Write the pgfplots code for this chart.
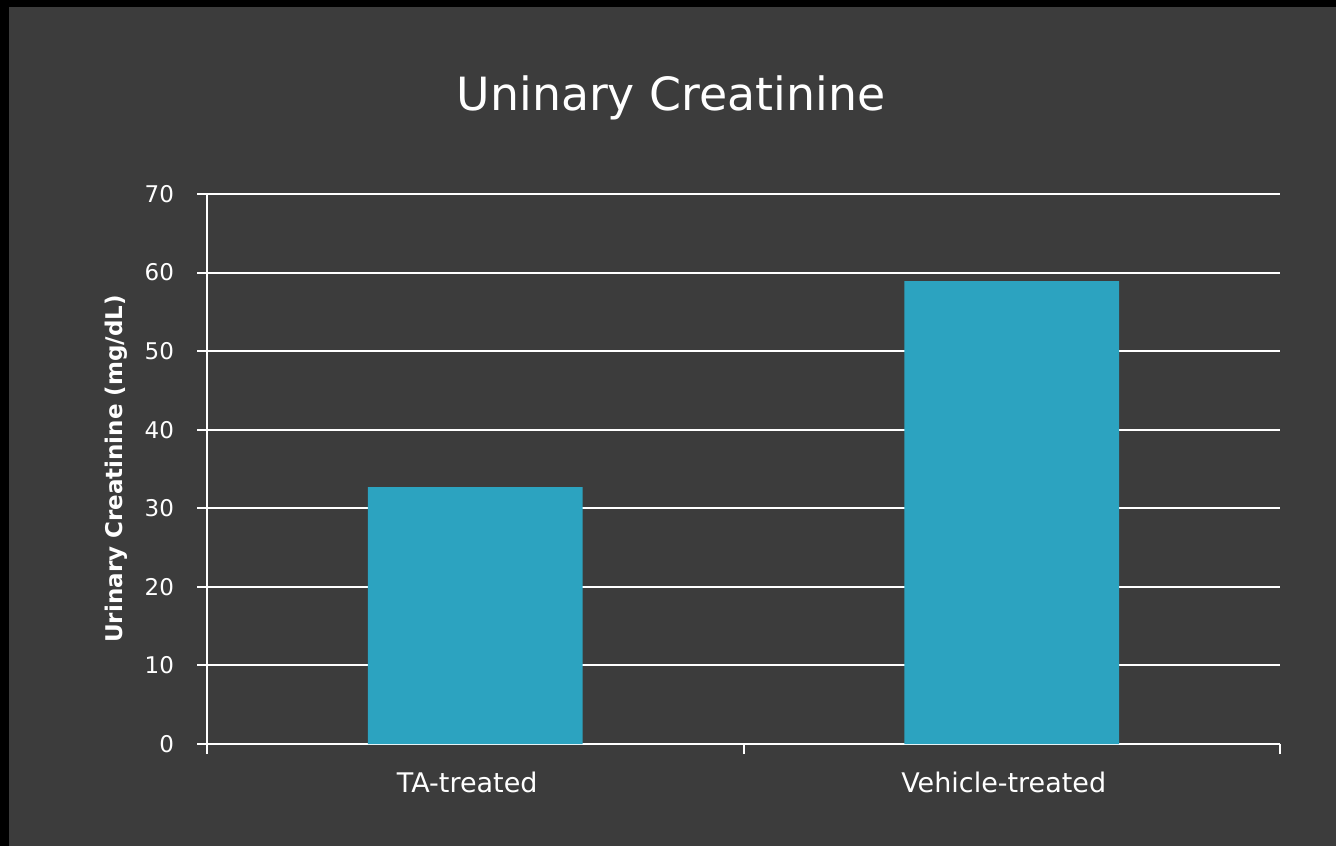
\documentclass[border=0pt]{standalone}
\usepackage{pgfplots}
\pgfplotsset{compat=1.18}
\usepackage{fontspec}
\setmainfont{DejaVu Sans}
\definecolor{bgc}{HTML}{3C3C3C}
\definecolor{barc}{HTML}{2CA3C0}
\begin{document}
\begin{tikzpicture}
\fill[black] (0pt,0pt) rectangle (668pt,423pt);
\fill[bgc] (4.5pt,0pt) rectangle (668pt,419.5pt);
\node[white, font=\fontsize{22.9}{26}\selectfont] at (335.5pt,374pt) {Uninary Creatinine};
\begin{axis}[
  at={(103.5pt,51pt)}, anchor=south west,
  scale only axis, width=536.5pt, height=275pt,
  xmin=0.5, xmax=2.5, ymin=0, ymax=70,
  xtick={1,2}, xticklabels={TA-treated, Vehicle-treated},
  minor xtick={0.5,1.5,2.5},
  ytick={0,10,...,70},
  major x tick style={draw=none},
  minor x tick style={white, line width=1pt},
  y tick style={white, line width=1pt},
  tick align=outside,
  major tick length=5pt, minor tick length=5pt,
  axis x line*=bottom, axis y line*=left,
  axis line style={white, line width=1pt, -},
  ymajorgrids, grid style={white, line width=1pt},
  ylabel={\bfseries Urinary Creatinine (mg/dL)},
  ylabel style={at={(axis description cs:0,0.5)}, anchor=center, yshift=45.5pt, white, font=\fontsize{11.5}{13}\selectfont},
  ticklabel style={white},
  /pgf/number format/assume math mode=true,
  xticklabel style={yshift=-5.5pt, xshift=-4pt, font=\fontsize{13.5}{15}\selectfont},
  yticklabel style={xshift=-8pt, font=\fontsize{11.5}{13}\selectfont},
  ybar, bar width=0.4,
]
\addplot[fill=barc, draw=none] coordinates {(1,32.7) (2,58.9)};
\end{axis}
\end{tikzpicture}
\end{document}
